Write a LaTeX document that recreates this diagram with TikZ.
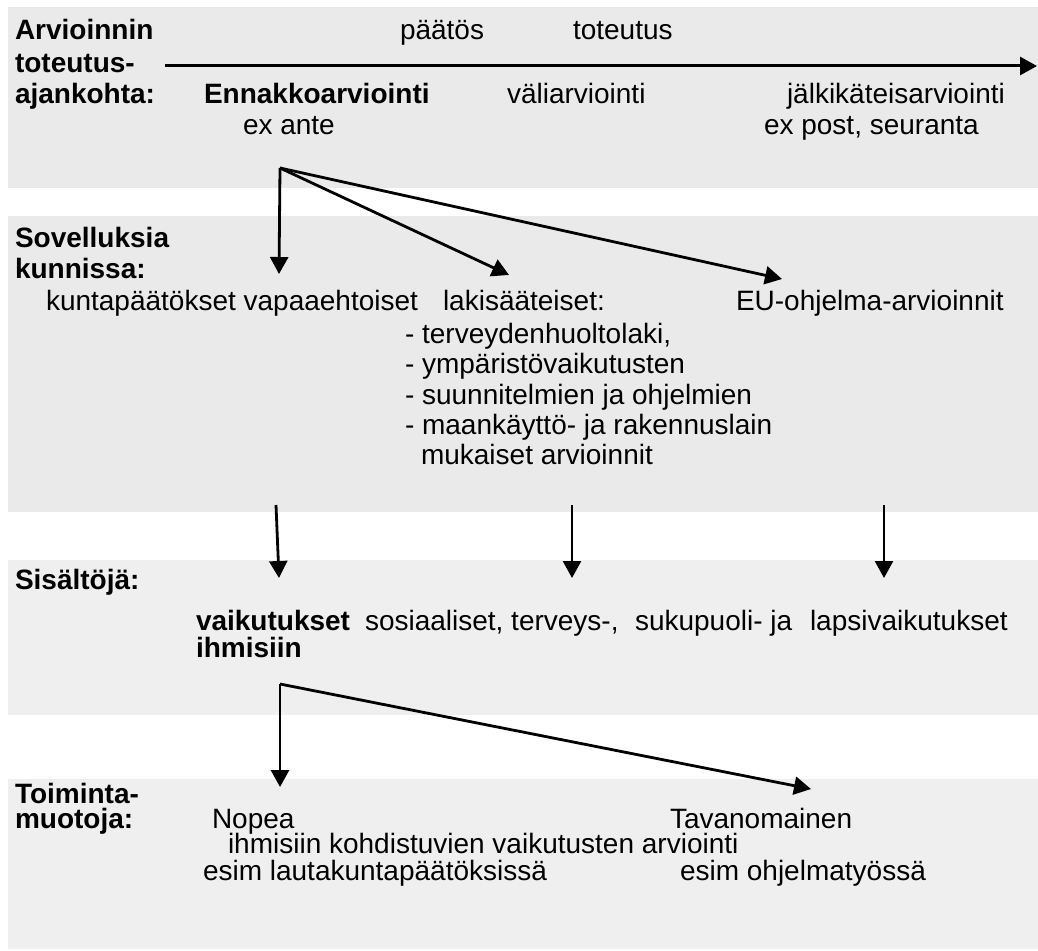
\documentclass[tikz,border=0pt]{standalone}
\usepackage{fontspec}
\setmainfont{Liberation Sans}
\usetikzlibrary{arrows.meta}
\definecolor{bandA}{RGB}{234,234,234}
\definecolor{bandB}{RGB}{239,239,239}
\tikzset{
  txt/.style={anchor=base west, inner sep=0pt, outer sep=0pt, font=\fontsize{28}{30}\selectfont},
  btxt/.style={txt, font=\fontsize{28}{30}\selectfont\bfseries},
  arr/.style={line width=2.8pt, -{Triangle[length=17pt,width=18pt]}},
  tline/.style={line width=3pt, -{Triangle[length=17pt,width=18pt]}},
}
\begin{document}
\begin{tikzpicture}[x=1pt,y=-1pt]
\useasboundingbox (0,0) rectangle (1038,950);
% bands
\fill[bandA] (8,7) rectangle (1038,188);
\fill[bandA] (8,216) rectangle (1038,512);
\fill[bandB] (8,560) rectangle (1038,715);
\fill[bandB] (8,779) rectangle (1038,949);

% band 1
\node[btxt] (h1a) at (15,40) {Arvioinnin};
\node[btxt] (h1b) at (15,72) {toteutus-};
\node[btxt] (h1c) at (15,103) {ajankohta:};
\node[txt] (paatos) at (400,40) {päätös};
\node[txt] (toteutus) at (573,40) {toteutus};
\node[btxt] (ennakko) at (204,103) {Ennakkoarviointi};
\node[txt] (vali) at (507,103) {väliarviointi};
\node[txt] (jalki) at (787,103) {jälkikäteisarviointi};
\node[txt] (exante) at (243,134) {ex ante};
\node[txt] (expost) at (764,134) {ex post, seuranta};
\coordinate (tlA) at (165,66);
\coordinate (tlB) at (1037,66);
\draw[tline] (tlA) -- (tlB);

% arrows band 1 -> band 2
\coordinate (o1) at (280,168);
\coordinate (t1) at (279,274);
\coordinate (t2) at (509,275);
\coordinate (t3) at (782,279);
\draw[arr] (o1) -- (t1);
\draw[arr] (o1) -- (t2);
\draw[arr] (o1) -- (t3);

% band 2
\node[btxt] (h2a) at (15,247) {Sovelluksia};
\node[btxt] (h2b) at (15,278) {kunnissa:};
\node[txt] (kunta) at (46,310) {kuntapäätökset vapaaehtoiset};
\node[txt] (laki) at (443,310) {lakisääteiset:};
\node[txt] (eu) at (736,310) {EU-ohjelma-arvioinnit};
\node[txt] (l1) at (405,343) {- terveydenhuoltolaki,};
\node[txt] (l2) at (405,373) {- ympäristövaikutusten};
\node[txt] (l3) at (405,404) {- suunnitelmien ja ohjelmien};
\node[txt] (l4) at (405,434) {- maankäyttö- ja rakennuslain};
\node[txt] (l5) at (421,464) {mukaiset arvioinnit};

% arrows band 2 -> band 3
\coordinate (s1) at (276,505);
\coordinate (s2) at (572,505);
\coordinate (s3) at (884,505);
\coordinate (e1) at (279,578);
\coordinate (e2) at (572,578);
\coordinate (e3) at (884,578);
\draw[arr] (s1) -- (e1);
\draw[arr] (s2) -- (e2);
\draw[arr] (s3) -- (e3);

% band 3
\node[btxt] (h3) at (15,589) {Sisältöjä:};
\node[btxt] (vaik) at (196,630) {vaikutukset};
\node[btxt] (ihm) at (196,657) {ihmisiin};
\node[txt] (sos) at (365,630) {sosiaaliset, terveys-,};
\node[txt] (suku) at (635,630) {sukupuoli- ja};
\node[txt] (lapsi) at (810,630) {lapsivaikutukset};

% arrows band 3 -> band 4
\coordinate (o2) at (280,684);
\coordinate (u1) at (280,787);
\coordinate (u2) at (811,789);
\draw[arr] (o2) -- (u1);
\draw[arr] (o2) -- (u2);

% band 4
\node[btxt, align=left, font=\fontsize{28}{25}\selectfont\bfseries] (h4) at (15,828) {Toiminta-\\muotoja:};
\node[txt] (nopea) at (212,828) {Nopea};
\node[txt] (tavan) at (670,828) {Tavanomainen};
\node[txt] (ihmk) at (228,853) {ihmisiin kohdistuvien vaikutusten arviointi};
\node[txt] (esim1) at (203,880) {esim lautakuntapäätöksissä};
\node[txt] (esim2) at (680,880) {esim ohjelmatyössä};
\end{tikzpicture}
\end{document}
